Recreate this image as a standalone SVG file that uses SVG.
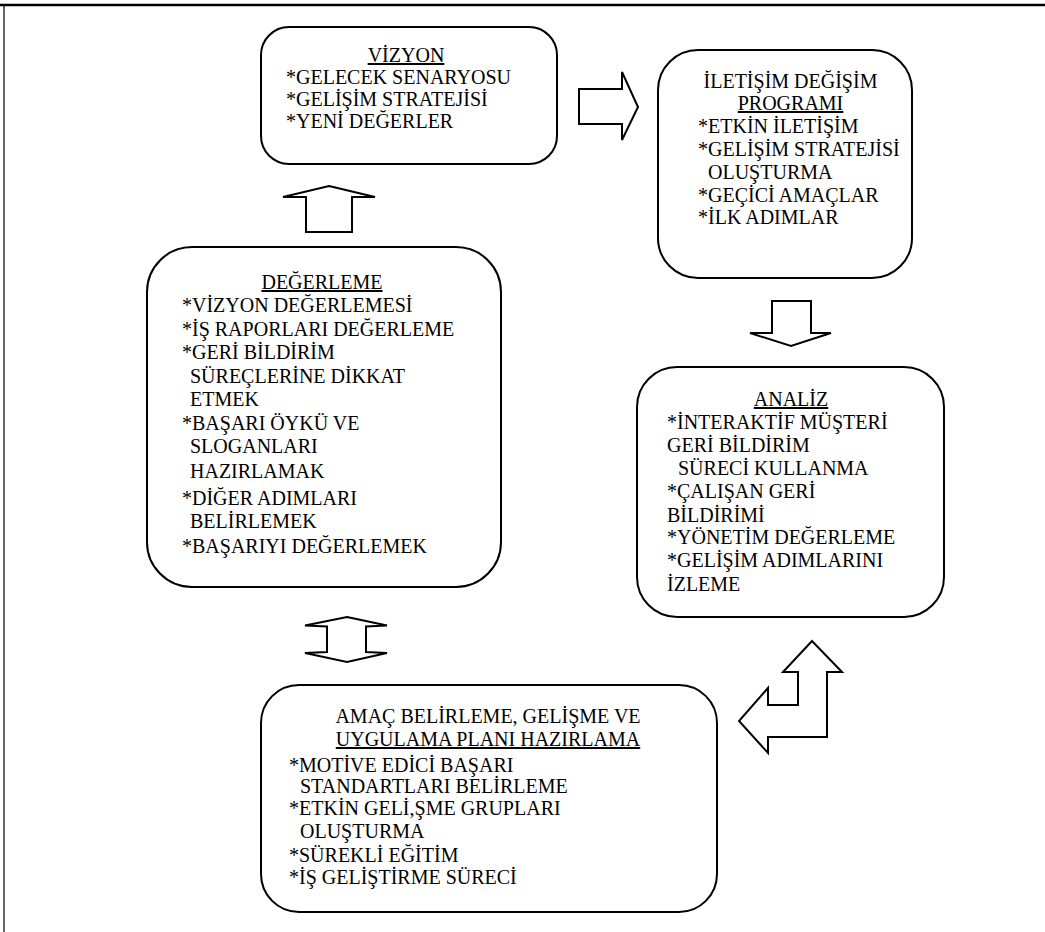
<svg xmlns="http://www.w3.org/2000/svg" width="1045" height="932" viewBox="0 0 1045 932">
  <style>
    .box { fill: #ffffff; stroke: #000000; stroke-width: 2; }
    .arrow { fill: #ffffff; stroke: #000000; stroke-width: 2; stroke-linejoin: miter; }
    text { font-family: "Liberation Serif", "Times New Roman", serif; font-size: 20px; fill: #000000; }
    .title { text-anchor: middle; }
    .ul { text-decoration: underline; }
  </style>

  <!-- page frame -->
  <rect x="0" y="0" width="1045" height="932" fill="#ffffff"/>
  <line x1="0" y1="5" x2="1045" y2="5" stroke="#000000" stroke-width="2.5"/>
  <line x1="4" y1="5" x2="4" y2="932" stroke="#000000" stroke-width="1.2"/>

  <g id="connectors">
    <!-- VİZYON -> İLETİŞİM -->
    <path class="arrow" d="M579,89 L622,89 L622,72 L638,107 L622,140 L622,124 L579,124 Z"/>
    <!-- İLETİŞİM -> ANALİZ -->
    <path class="arrow" d="M772,301 L811,301 L811,333 L831,333 L791,346 L750,333 L772,333 Z"/>
    <!-- ANALİZ <-> AMAÇ (bent) -->
    <path class="arrow" d="M812,641 L842,672 L827,672 L827,737 L768,737 L768,753 L739,721 L768,688 L768,705 L798,705 L798,672 L783,672 Z"/>
    <!-- AMAÇ <-> DEĞERLEME -->
    <path class="arrow" d="M347,617 L387,625.5 L366,626.5 L366,652 L387,653 L347,662 L305,653 L327,652 L327,626.5 L305,625.5 Z"/>
    <!-- DEĞERLEME -> VİZYON -->
    <path class="arrow" d="M329,186 L375,197 L352,197 L352,232 L306,232 L306,197 L283,197 Z"/>
  </g>

  <g id="vizyon">
    <rect class="box" x="261" y="27" width="296" height="137" rx="28" ry="28"/>
    <text class="title ul" x="406" y="62">VİZYON</text>
    <text x="286" y="84">*GELECEK SENARYOSU</text>
    <text x="286" y="106">*GELİŞİM STRATEJİSİ</text>
    <text x="286" y="128">*YENİ DEĞERLER</text>
  </g>

  <g id="iletisim">
    <rect class="box" x="658" y="50" width="254" height="228" rx="40" ry="40"/>
    <text class="title" x="790.5" y="88">İLETİŞİM DEĞİŞİM</text>
    <text class="title ul" x="790.5" y="110">PROGRAMI</text>
    <text x="698" y="133">*ETKİN İLETİŞİM</text>
    <text x="698" y="156">*GELİŞİM STRATEJİSİ</text>
    <text x="708" y="179">OLUŞTURMA</text>
    <text x="698" y="202">*GEÇİCİ AMAÇLAR</text>
    <text x="698" y="224">*İLK ADIMLAR</text>
  </g>

  <g id="degerleme">
    <rect class="box" x="147" y="247" width="354" height="340" rx="45" ry="45"/>
    <text class="title ul" x="322" y="289">DEĞERLEME</text>
    <text x="182" y="312">*VİZYON DEĞERLEMESİ</text>
    <text x="182" y="336">*İŞ RAPORLARI DEĞERLEME</text>
    <text x="182" y="359">*GERİ BİLDİRİM</text>
    <text x="190" y="383">SÜREÇLERİNE DİKKAT</text>
    <text x="190" y="406">ETMEK</text>
    <text x="182" y="430">*BAŞARI ÖYKÜ VE</text>
    <text x="190" y="453">SLOGANLARI</text>
    <text x="190" y="478">HAZIRLAMAK</text>
    <text x="182" y="505">*DİĞER ADIMLARI</text>
    <text x="190" y="528">BELİRLEMEK</text>
    <text x="182" y="553">*BAŞARIYI DEĞERLEMEK</text>
  </g>

  <g id="analiz">
    <rect class="box" x="637" y="367" width="307" height="250" rx="40" ry="40"/>
    <text class="title ul" x="791" y="406">ANALİZ</text>
    <text x="667" y="429">*İNTERAKTİF MÜŞTERİ</text>
    <text x="667" y="452">GERİ BİLDİRİM</text>
    <text x="678" y="475">SÜRECİ KULLANMA</text>
    <text x="667" y="498">*ÇALIŞAN GERİ</text>
    <text x="667" y="522">BİLDİRİMİ</text>
    <text x="667" y="544">*YÖNETİM DEĞERLEME</text>
    <text x="667" y="567">*GELİŞİM ADIMLARINI</text>
    <text x="667" y="591">İZLEME</text>
  </g>

  <g id="amac">
    <rect class="box" x="261" y="685" width="456" height="227" rx="38" ry="38"/>
    <text class="title" x="488" y="723">AMAÇ BELİRLEME, GELİŞME VE</text>
    <text class="title ul" x="488" y="746">UYGULAMA PLANI HAZIRLAMA</text>
    <text x="289" y="772">*MOTİVE EDİCİ BAŞARI</text>
    <text x="300" y="793">STANDARTLARI BELİRLEME</text>
    <text x="289" y="815">*ETKİN GELİ,ŞME GRUPLARI</text>
    <text x="300" y="838">OLUŞTURMA</text>
    <text x="289" y="862">*SÜREKLİ EĞİTİM</text>
    <text x="289" y="884">*İŞ GELİŞTİRME SÜRECİ</text>
  </g>
</svg>
